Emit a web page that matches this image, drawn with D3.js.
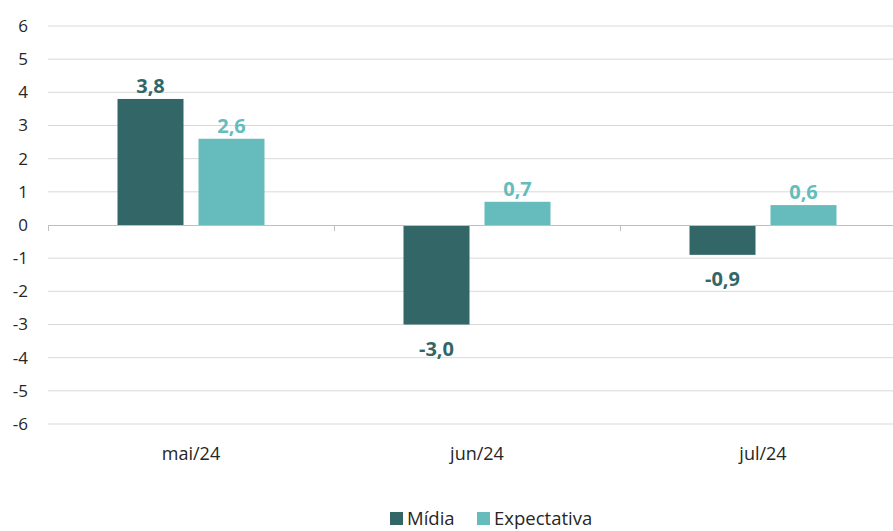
<!DOCTYPE html>
<html>
<head>
<meta charset="utf-8">
<script src="https://cdn.jsdelivr.net/npm/d3@7"></script>
<style>
  body { margin: 0; background: #fff; }
  svg { font-family: "Open Sans", sans-serif; }
</style>
</head>
<body>
<svg id="chart"></svg>
<script>
// chart data
const categories = ["mai/24", "jun/24", "jul/24"];
const seriesNames = ["Mídia", "Expectativa"];
const midia = [3.8, -3.0, -0.9];
const expectativa = [2.6, 0.7, 0.6];
const yTicks = [-6, -5, -4, -3, -2, -1, 0, 1, 2, 3, 4, 5, 6];

const colors = ["#336666", "#66bcbc"];

function main() {
    let width = 893;
    let height = 531;
    let svg = d3.select("#chart")
        .attr("width", width)
        .attr("height", height);

    // plot area (the last band runs past the right edge, like the source)
    const left = 48;
    const bandW = 286;
    const top = 26;
    const bottom = 424;

    let x = d3.scaleBand()
        .domain(categories)
        .range([left, left + bandW * categories.length])
        .paddingInner(0)
        .paddingOuter(0);

    let y = d3.scaleLinear()
        .domain([-6, 6])
        .range([bottom, top]);

    // gridlines
    svg.append("g")
        .selectAll("line")
        .data(yTicks.filter(t => t !== 0))
        .join("line")
        .attr("x1", left)
        .attr("x2", width)
        .attr("y1", d => y(d))
        .attr("y2", d => y(d))
        .attr("stroke", "#d9d9d9")
        .attr("stroke-width", 1);

    // y axis labels
    svg.append("g")
        .selectAll("text")
        .data(yTicks)
        .join("text")
        .attr("x", 28)
        .attr("y", d => y(d))
        .attr("dy", "0.35em")
        .attr("text-anchor", "end")
        .attr("font-size", 17)
        .attr("fill", "#262626")
        .text(d => d);

    // group data
    let rows = categories.map((c, i) => ({ cat: c, values: [midia[i], expectativa[i]] }));

    let inner = d3.scaleBand()
        .domain(seriesNames)
        .range([0, 147])
        .paddingInner(15 / 81);

    let groups = svg.append("g")
        .selectAll("g")
        .data(rows)
        .join("g")
        .attr("transform", d => `translate(${x(d.cat) + x.bandwidth() / 2 - 73.5},0)`);

    groups.selectAll("rect")
        .data(d => d.values.map((v, j) => ({ name: seriesNames[j], v: v, j: j })))
        .join("rect")
        .attr("x", d => inner(d.name))
        .attr("width", inner.bandwidth())
        .attr("y", d => y(Math.max(0, d.v)))
        .attr("height", d => Math.abs(y(d.v) - y(0)))
        .attr("fill", d => colors[d.j]);

    // value labels
    groups.selectAll("text")
        .data(d => d.values.map((v, j) => ({ name: seriesNames[j], v: v, j: j })))
        .join("text")
        .attr("x", d => inner(d.name) + inner.bandwidth() / 2)
        .attr("y", d => d.v >= 0 ? y(d.v) - 6 : y(d.v) + 31)
        .attr("text-anchor", "middle")
        .attr("font-size", 20)
        .attr("font-weight", "bold")
        .attr("fill", d => colors[d.j])
        .text(d => d3.format(".1f")(d.v).replace(".", ",").replace("−", "-"));

    // zero axis line and category separators
    svg.append("line")
        .attr("x1", left)
        .attr("x2", width)
        .attr("y1", y(0) + 0.5)
        .attr("y2", y(0) + 0.5)
        .attr("stroke", "#bfbfbf");

    svg.append("g")
        .selectAll("line")
        .data(categories)
        .join("line")
        .attr("x1", d => x(d) + 0.5)
        .attr("x2", d => x(d) + 0.5)
        .attr("y1", y(0))
        .attr("y2", y(0) + 6)
        .attr("stroke", "#bfbfbf");

    // category labels
    svg.append("g")
        .selectAll("text")
        .data(categories)
        .join("text")
        .attr("x", d => x(d) + x.bandwidth() / 2)
        .attr("y", 460)
        .attr("text-anchor", "middle")
        .attr("font-size", 18)
        .attr("fill", "#262626")
        .text(d => d);

    // legend
    let legendX = [390, 477];
    let legend = svg.append("g")
        .selectAll("g")
        .data(seriesNames)
        .join("g")
        .attr("transform", (d, i) => `translate(${legendX[i]},512)`);
    legend.append("rect")
        .attr("width", 13)
        .attr("height", 13)
        .attr("fill", (d, i) => colors[i]);
    legend.append("text")
        .attr("x", 17)
        .attr("y", 7)
        .attr("dy", "0.35em")
        .attr("font-size", 18.5)
        .attr("fill", "#262626")
        .text(d => d);
}

main();
</script>
</body>
</html>
